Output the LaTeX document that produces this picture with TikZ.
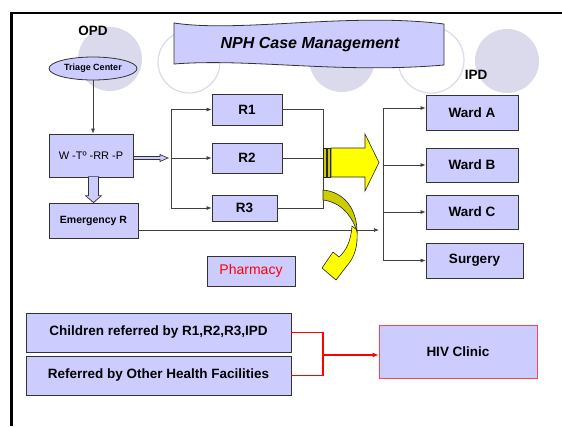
\documentclass[tikz,border=0pt]{standalone}
\usepackage{fontspec}
\setmainfont{Liberation Sans}
\definecolor{BoxLavender}{RGB}{204, 204, 255}
\definecolor{CircleGray}{RGB}{218, 218, 236}
\definecolor{LineGray}{RGB}{64, 64, 64}
\definecolor{ArrowYellow}{RGB}{255, 255, 0}
\definecolor{OliveYellow}{RGB}{204, 204, 0}
\definecolor{ClinicRed}{RGB}{255, 0, 0}
\definecolor{SoftRed}{RGB}{240, 70, 80}
\usetikzlibrary{shapes,arrows.meta,positioning,calc}

\tikzset{
  box/.style={draw=black!80, fill=BoxLavender, line width=0.8pt, inner sep=0pt, font=\bfseries\fontsize{13.5}{16}\selectfont},
  link/.style={draw=LineGray, line width=0.7pt},
  linkarrow/.style={-{Latex[length=5pt,width=4pt]}},
  redlink/.style={draw=ClinicRed, line width=1.8pt},
  blockarrow/.style={draw=black!80, fill=BoxLavender, line width=0.7pt},
  yellowpart/.style={draw=black!85, line width=0.6pt},
  bubble/.style={fill=CircleGray},
  ring/.style={draw=CircleGray, line width=1.2pt, fill=white}
}

\begin{document}
\begin{tikzpicture}[x=1pt, y=-1pt]
                    \useasboundingbox (0,0) rectangle (562,426);
                    % background circles
                    \fill[bubble] (110,59) circle[radius=32pt];
                    \draw[ring] (189,62) circle[radius=31pt];
                    \fill[bubble] (342,59) circle[radius=33pt];
                    \draw[ring] (431,60) circle[radius=33pt];
                    \fill[bubble] (507,61) circle[radius=32pt];
                    \draw[line width=2.5pt] (11.5,426) -- (11.5,13) -- (562,13);
                    % title banner
                    \draw[fill=BoxLavender, draw=black!80, line width=0.8pt] (174,23) .. controls (240,33) and (350,12) .. (444,24) -- (444,65) .. controls (340,74) and (250,58) .. (174,64) -- cycle;
                    \node[font=\bfseries\itshape\fontsize{16}{19}\selectfont] (title) at (310,45) {NPH Case Management};
                    \node[font=\bfseries\fontsize{13.5}{16}\selectfont] (opd) at (93,31) {OPD};
                    \node[font=\bfseries\fontsize{13.5}{16}\selectfont] (ipdlabel) at (476,75) {IPD};
                    % OPD side
                    \node[box, ellipse, minimum width=88pt, minimum height=23pt, font=\bfseries\fontsize{9}{11}\selectfont] (triage) at (93,68.5) {Triage Center};
                    \node[box, minimum width=84pt, minimum height=43pt, font=\fontsize{11}{13}\selectfont] (wtrp) at (91,155.5) {W -Tº -RR -P};
                    \node[box, minimum width=89pt, minimum height=35pt, font=\bfseries\fontsize{10.5}{12}\selectfont] (emerg) at (93.5,220.5) {Emergency R};
                    \node[box, minimum width=70pt, minimum height=31pt] (r1) at (247,109.5) {R1};
                    \node[box, minimum width=70pt, minimum height=30pt] (r2) at (247,158) {R2};
                    \node[box, minimum width=65pt, minimum height=26pt] (r3) at (244.5,208) {R3};
                    \node[box, minimum width=88pt, minimum height=30pt, font=\fontsize{14}{16}\selectfont, text=ClinicRed] (pharmacy) at (251,271) {Pharmacy};
                    % IPD side
                    \node[box, minimum width=92pt, minimum height=35pt] (warda) at (472,112.5) {Ward A};
                    \node[box, minimum width=92pt, minimum height=34pt] (wardb) at (472,165) {Ward B};
                    \node[box, minimum width=92pt, minimum height=34pt] (wardc) at (472,212) {Ward C};
                    \node[box, minimum width=97pt, minimum height=35pt] (surgery) at (474.5,260.5) {Surgery};
                    % HIV referrals
                    \node[box, minimum width=265pt, minimum height=39pt] (children) at (158.5,332.5) {Children referred by R1,R2,R3,IPD};
                    \node[box, minimum width=265pt, minimum height=39pt] (referred) at (158.5,375.5) {Referred by Other Health Facilities};
                    \node[box, draw=SoftRed, minimum width=158pt, minimum height=53pt] (hiv) at (458,351.5) {HIV Clinic};
                    \coordinate (branch) at (171,158);
                    \coordinate (merge) at (323,158);
                    \coordinate (yarrow) at (323,162.5);
                    \coordinate (ipd) at (383,108);
                    \coordinate (hivjoin) at (323,355);
                    % connectors
                    \draw[link, linkarrow] (triage.south) -- (triage.south |- wtrp.north);
                    \draw[blockarrow] ($(emerg.north)+(-5,-26)$) -- ($(emerg.north)+(-5,-7)$) -- ($(emerg.north)+(-8,-7)$) -- (emerg.north) -- ($(emerg.north)+(8,-7)$) -- ($(emerg.north)+(5,-7)$) -- ($(emerg.north)+(5,-26)$) -- cycle;
                    \draw[blockarrow] ($(wtrp.east |- branch)+(0,-1.5)$) -- ($(branch)+(-11,-1.5)$) -- ($(branch)+(-11,-3.5)$) -- ($(branch)+(-3,0)$) -- ($(branch)+(-11,3.5)$) -- ($(branch)+(-11,1.5)$) -- ($(wtrp.east |- branch)+(0,1.5)$) -- cycle;
                    \draw[link] (branch |- r1.west) -- (branch |- r3.west);
                    \draw[link, linkarrow] (branch |- r1.west) -- (r1.west);
                    \draw[link, linkarrow] (branch) -- (r2.west);
                    \draw[link, linkarrow] (branch |- r3.west) -- (r3.west);
                    \draw[link] (r1.east) -| (merge);
                    \draw[link] (r2.east) -- (merge);
                    \draw[link] (r3.east) -| (merge);
                    \draw[link] (ipd) -- (ipd |- surgery.west);
                    \draw[link, linkarrow] (ipd) -- (ipd -| warda.west);
                    \draw[link, linkarrow] (ipd |- wardb.west) -- (wardb.west);
                    \draw[link, linkarrow] (ipd |- wardc.west) -- (wardc.west);
                    \draw[link, linkarrow] (ipd |- surgery.west) -- (surgery.west);
                    \draw[link, linkarrow] ($(emerg.east)+(0,9.5)$) -- ($(ipd |- emerg.east)+(-4,9.5)$);
                    % yellow arrows
                    \draw[yellowpart, fill=OliveYellow] ($(yarrow)+(0,-14.5)$) rectangle ($(yarrow)+(3,14.5)$);
                    \draw[yellowpart, fill=OliveYellow] ($(yarrow)+(4,-14.5)$) rectangle ($(yarrow)+(7,14.5)$);
                    \draw[yellowpart, fill=ArrowYellow] ($(yarrow)+(8,-14.5)$) -- ($(yarrow)+(42,-14.5)$) -- ($(yarrow)+(42,-28.5)$) -- ($(yarrow)+(56,0)$) -- ($(yarrow)+(42,28.5)$) -- ($(yarrow)+(42,14.5)$) -- ($(yarrow)+(8,14.5)$) -- cycle;
                    \draw[yellowpart, fill=ArrowYellow] (357,230) .. controls (358,246) and (355,257) .. (346,267) -- (336,280) -- (322,268) -- (333,252) -- (339,257) .. controls (346,251) and (351,241) .. (352,226) -- cycle;
                    \draw[yellowpart, fill=OliveYellow] (323,190) .. controls (345,192) and (357,210) .. (357,232) .. controls (352,215) and (340,202) .. (323,200) -- cycle;
                    % red referral lines
                    \draw[redlink] (children.east) -| (hivjoin) |- (referred.east);
                    \draw[redlink, -{Latex[length=6pt,width=5pt]}] (hivjoin) -- (hivjoin -| hiv.west);
                \end{tikzpicture}
\end{document}
